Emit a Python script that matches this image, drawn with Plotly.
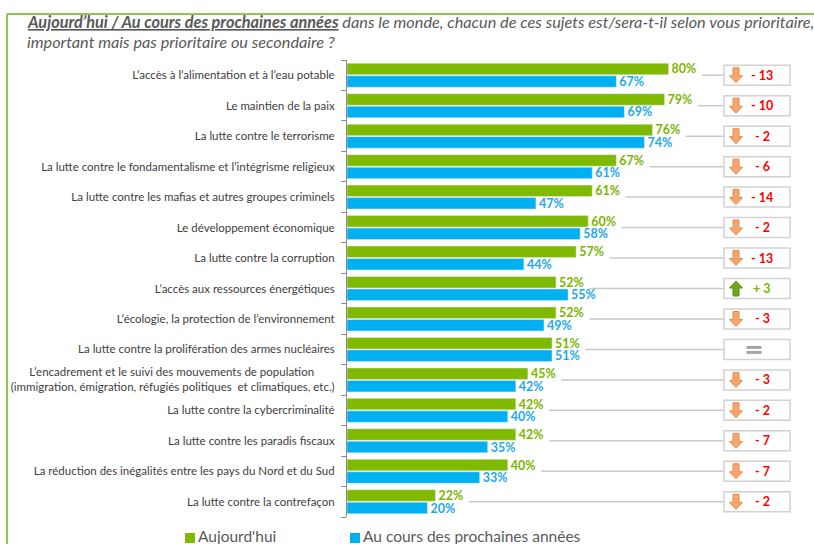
import plotly.graph_objects as go

categories = [
    "L’accès à l’alimentation et à l’eau potable",
    "Le maintien de la paix",
    "La lutte contre le terrorisme",
    "La lutte contre le fondamentalisme et l’intégrisme religieux",
    "La lutte contre les mafias et autres groupes criminels",
    "Le développement économique",
    "La lutte contre la corruption",
    "L’accès aux ressources énergétiques",
    "L’écologie, la protection de l’environnement",
    "La lutte contre la prolifération des armes nucléaires",
    "L’encadrement et le suivi des mouvements de population" + "\u00a0" * 7
    + "<br>(immigration, émigration, réfugiés politiques  et climatiques, etc.)",
    "La lutte contre la cybercriminalité",
    "La lutte contre les paradis fiscaux",
    "La réduction des inégalités entre les pays du Nord et du Sud",
    "La lutte contre la contrefaçon",
]
aujourdhui = [80, 79, 76, 67, 61, 60, 57, 52, 52, 51, 45, 42, 42, 40, 22]
prochaines = [67, 69, 74, 61, 47, 58, 44, 55, 49, 51, 42, 40, 35, 33, 20]
series_names = ["Aujourd'hui", "Au cours des prochaines années"]

GREEN = "#7FBA00"
BLUE = "#00B0F0"
GREEN_TXT = "#7CB500"
BLUE_TXT = "#1DA8EC"
GRAY_TXT = "#595959"
FONT = "Lato, 'Open Sans', sans-serif"

W, H = 814, 544
L, R, T, B = 347, 800, 60, 517
PXX = 4.02                      # px per % unit
XMAX = (R - L) / PXX
n = len(categories)
PXY = (B - T) / n               # px per category


def px_x(px):
    return (px - L) / (R - L)


def px_y(py):
    return (B - py) / (B - T)


ys = list(range(n))
fig = go.Figure()
colors = [GREEN, BLUE]
txtcolors = [GREEN_TXT, BLUE_TXT]
for name, vals, c, tc in zip(series_names, [aujourdhui, prochaines], colors, txtcolors):
    fig.add_trace(go.Bar(
        y=ys, x=vals, orientation="h", name=name,
        marker=dict(color=c), texttemplate="%{x}%", textposition="outside",
        outsidetextfont=dict(color=tc, size=12.5, family=FONT, weight="bold"),
        cliponaxis=False, constraintext="none", showlegend=False,
    ))

shapes = []
annotations = []
ux, uy = 1 / PXX, 1 / PXY
box_x0 = (724 - L) / PXX
box_x1 = (790 - L) / PXX
arrow_cx = (736 - L) / PXX
text_cx = (762 - L) / PXX
eq_cx = (754 - L) / PXX

for i, (a, p) in enumerate(zip(aujourdhui, prochaines)):
    d = p - a
    shapes.append(dict(type="line", xref="x", yref="y", x0=a + 8.3, x1=box_x0,
                       y0=i, y1=i, line=dict(color="#C9C9C9", width=1.5), layer="below"))
    shapes.append(dict(type="rect", xref="x", yref="y", x0=box_x0, x1=box_x1,
                       y0=i - 10 * uy, y1=i + 10 * uy, fillcolor="white",
                       line=dict(color="#D2D2D2", width=1.5)))
    cx, cy = arrow_cx, i
    if d < 0:
        path = (f"M{cx-3*ux},{cy-7.5*uy} L{cx+3*ux},{cy-7.5*uy} L{cx+3*ux},{cy+0.5*uy} "
                f"L{cx+6.5*ux},{cy+0.5*uy} L{cx},{cy+7.5*uy} L{cx-6.5*ux},{cy+0.5*uy} "
                f"L{cx-3*ux},{cy+0.5*uy} Z")
        shapes.append(dict(type="path", xref="x", yref="y", path=path,
                           fillcolor="#F9A66C", line=dict(color="#E58A4E", width=1)))
        annotations.append(dict(xref="x", yref="y", x=text_cx, y=i, text=f"- {-d}",
                                showarrow=False, font=dict(color="#FF0000", size=12.5,
                                                           family=FONT, weight="bold")))
    elif d > 0:
        path = (f"M{cx-3*ux},{cy+7.5*uy} L{cx+3*ux},{cy+7.5*uy} L{cx+3*ux},{cy-0.5*uy} "
                f"L{cx+6.5*ux},{cy-0.5*uy} L{cx},{cy-7.5*uy} L{cx-6.5*ux},{cy-0.5*uy} "
                f"L{cx-3*ux},{cy-0.5*uy} Z")
        shapes.append(dict(type="path", xref="x", yref="y", path=path,
                           fillcolor="#6AAA14", line=dict(color="#5A9610", width=1)))
        annotations.append(dict(xref="x", yref="y", x=text_cx, y=i, text=f"+ {d}",
                                showarrow=False, font=dict(color="#7CB500", size=12.5,
                                                           family=FONT, weight="bold")))
    else:
        for off in (-3.5, 1.5):
            shapes.append(dict(type="rect", xref="x", yref="y",
                               x0=eq_cx - 7.5 * ux, x1=eq_cx + 7.5 * ux,
                               y0=i + off * uy, y1=i + (off + 3) * uy,
                               fillcolor="#A6A6A6", line=dict(width=0)))

# frame (green)
shapes.append(dict(type="line", xref="paper", yref="paper", x0=px_x(7), x1=px_x(814),
                   y0=px_y(14), y1=px_y(14), line=dict(color="#92C353", width=2)))
shapes.append(dict(type="line", xref="paper", yref="paper", x0=px_x(7), x1=px_x(7),
                   y0=px_y(14), y1=px_y(544), line=dict(color="#92C353", width=2)))

# legend (manual)
legend_x = [185, 350]
for name, c, lx in zip(series_names, colors, legend_x):
    shapes.append(dict(type="rect", xref="paper", yref="paper",
                       x0=px_x(lx), x1=px_x(lx + 10), y0=px_y(543), y1=px_y(533),
                       fillcolor=c, line=dict(width=0)))
    annotations.append(dict(xref="paper", yref="paper", x=px_x(lx + 11), y=px_y(536),
                            xanchor="left", yanchor="middle", showarrow=False, text=name,
                            font=dict(size=15.5, color=GRAY_TXT, family=FONT)))

# title
annotations.append(dict(
    xref="paper", yref="paper", x=px_x(25), y=px_y(22), xanchor="left", yanchor="middle",
    showarrow=False, align="left",
    text="<b><i><span style='text-decoration:underline'>Aujourd’hui / Au cours des prochaines années</span></i></b>"
         "<i> dans le monde, chacun de ces sujets est/sera-t-il selon vous prioritaire,</i>",
    font=dict(size=16.3, color=GRAY_TXT, family=FONT)))
annotations.append(dict(
    xref="paper", yref="paper", x=px_x(25), y=px_y(42), xanchor="left", yanchor="middle",
    showarrow=False, align="left",
    text="<i>important mais pas prioritaire ou secondaire ?</i>",
    font=dict(size=16.3, color=GRAY_TXT, family=FONT)))

fig.update_layout(
    width=W, height=H,
    margin=dict(l=L, r=W - R, t=T, b=H - B, pad=0, autoexpand=False),
    paper_bgcolor="white", plot_bgcolor="white",
    barmode="group", bargap=0.18, bargroupgap=0.08,
    font=dict(family=FONT, color="#404040", size=11),
    shapes=shapes, annotations=annotations,
    showlegend=False,
    xaxis=dict(range=[0, XMAX], visible=False, fixedrange=True, automargin=False),
    yaxis=dict(range=[n - 0.5, -0.5], autorange=False, tickmode="array", tickvals=ys,
               ticktext=categories, ticks="", showline=True, linecolor="#8C8C8C",
               linewidth=1, showgrid=False, zeroline=False, ticklabelstandoff=9,
               automargin=False,
               tickfont=dict(size=11.5, color="#404040", family=FONT),
               minor=dict(tickmode="array", tickvals=[k - 0.5 for k in range(n + 1)],
                          ticks="outside", ticklen=5, tickcolor="#8C8C8C", showgrid=False)),
)

fig.write_html("out.html", config={"displayModeBar": False},
               post_script="document.body.style.margin='0px';document.body.style.overflow='hidden';")
